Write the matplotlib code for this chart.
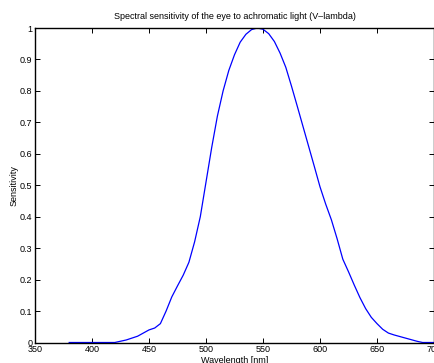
import matplotlib
matplotlib.use('Agg')
import matplotlib.pyplot as plt
from matplotlib.ticker import FormatStrFormatter

# wavelength [nm] and relative sensitivity
wavelength = [380, 390, 400, 410, 420, 430, 440, 450, 455, 460, 465, 470, 475, 480,
              485, 490, 495, 500, 505, 510, 515, 520, 525, 530, 535, 540, 545, 550,
              555, 560, 565, 570, 575, 580, 585, 590, 595, 600, 605, 610, 615, 620,
              625, 630, 635, 640, 645, 650, 655, 660, 665, 670, 675, 680, 685, 690, 700]
sensitivity = [0, 0, 0, 0, 0, 0.008, 0.02, 0.04, 0.046, 0.06, 0.1, 0.145, 0.18, 0.214,
               0.255, 0.32, 0.40, 0.51, 0.62, 0.72, 0.80, 0.865, 0.915, 0.955, 0.98, 0.995, 1.0, 0.996,
               0.982, 0.957, 0.92, 0.875, 0.815, 0.752, 0.688, 0.624, 0.56, 0.495, 0.44, 0.39, 0.33, 0.265,
               0.225, 0.183, 0.143, 0.108, 0.08, 0.06, 0.042, 0.03, 0.024, 0.019, 0.014, 0.009, 0.004, 0.0, 0]

xticks = [350, 400, 450, 500, 550, 600, 650, 700]
yticks = [0, 0.1, 0.2, 0.3, 0.4, 0.5, 0.6, 0.7, 0.8, 0.9, 1]

plt.rcParams['font.family'] = ['Liberation Sans', 'DejaVu Sans']
plt.rcParams['font.size'] = 6.5

fig = plt.figure(figsize=(4.35, 3.63), dpi=100)
ax = fig.add_axes([35 / 435, 1 - 342.5 / 363, 399 / 435, (342.5 - 28) / 363])

ax.plot(wavelength, sensitivity, color='blue', linewidth=0.9)

ax.set_xlim(350, 700)
ax.set_ylim(0, 1)
ax.set_xticks(xticks)
ax.set_yticks(yticks)
ax.yaxis.set_major_formatter(FormatStrFormatter('%g'))
ax.tick_params(direction='in', length=3.5, width=0.7, top=True, right=True,
               pad=2, labelsize=6.5)
for s in ax.spines.values():
    s.set_linewidth(1.0)

ax.set_title('Spectral sensitivity of the eye to achromatic light (V\u2013lambda)',
             fontsize=6.5, pad=6.5)
ax.set_xlabel('Wavelength [nm]', fontsize=6.5, labelpad=1)
ax.set_ylabel('Sensitivity', fontsize=6.5, labelpad=1)

fig.savefig('out.png', dpi=100)
